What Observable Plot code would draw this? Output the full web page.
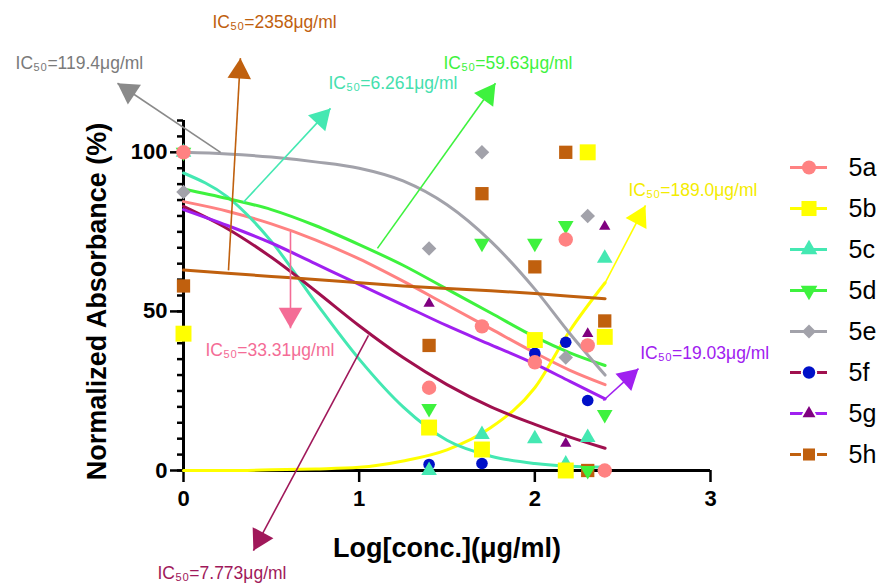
<!DOCTYPE html>
<html><head><meta charset="utf-8">
<script src="https://cdn.jsdelivr.net/npm/d3@7"></script>
<script src="https://cdn.jsdelivr.net/npm/@observablehq/plot@0.6"></script>
<style>
body{margin:0;background:#fff;}
#wrap{position:relative;width:886px;height:586px;font-family:"Liberation Sans",Arial,sans-serif;}
#wrap svg{position:absolute;overflow:visible;}
</style></head><body><div id="wrap"></div>
<script>
// ---------- data ----------
const seriesNames = ["5a","5b","5c","5d","5e","5f","5g","5h"];
// measured log10 concentrations (1, 25, 50, 100, 150, 200, 250 µg/ml)
const logConc = [0, 1.398, 1.699, 2, 2.176, 2.301, 2.398];
const pts5a = [100, 26, 45.3, 34, 72.6, 39.3, 0];
const pts5b = [43, 13.5, 6.6, 41, 0, 100, 42];
const pts5c = [100, 0, 11.3, 10, 2, 10.4, 66.7];
const pts5d = [100, 19.5, 71.4, 71.4, 77, 0, 17.6];
const pts5e = [87.5, 69.8, 100, null, 35.5, 80, null];
const pts5f = [null, 1.9, 2.2, 36.8, 40.3, 22, null];
const pts5g = [null, 52.5, null, null, 8.5, 43, 76.7];
const pts5h = [58, 39.3, 87, 64, 100, 0, 47];
// fitted curves
const curveX = [0, 0.25, 0.5, 0.75, 1, 1.25, 1.5, 1.75, 2, 2.2, 2.4];
const fit5a = [84.5, 81.5, 77.5, 72.5, 66.5, 59.5, 52, 44.5, 37, 31.5, 27];
const fit5b = [0, 0, 0.2, 0.5, 1, 3, 6.5, 13.5, 26, 44, 59];
const fit5c = [93.5, 86, 72, 53, 35, 20, 9.5, 4.5, 2.2, 1.3, 1];
const fit5d = [88.5, 85.5, 82, 77, 71, 64.5, 57, 49.5, 42, 37, 33];
const fit5e = [100, 99.5, 98.5, 97, 95, 91, 83.5, 72, 57, 43, 30];
const fit5f = [83, 76, 67, 56.5, 45.5, 35.5, 27, 20, 14.5, 10.5, 7];
const fit5g = [82, 77, 71.5, 65, 58.5, 52, 45.5, 39.5, 33.5, 28, 22.5];
const fit5h = [63, 62, 61, 60, 59, 58, 57.2, 56.5, 55.6, 54.8, 54];
// IC50 annotations (series order)
const icLabels = ["IC₅₀=33.31μg/ml","IC₅₀=189.0μg/ml","IC₅₀=6.261μg/ml","IC₅₀=59.63μg/ml",
                  "IC₅₀=119.4μg/ml","IC₅₀=7.773μg/ml","IC₅₀=19.03μg/ml","IC₅₀=2358μg/ml"];
const arrowFromX = [0.609, 2.40, 0.341, 1.104, 0.211, 1.053, 2.39, 0.256];
const arrowFromY = [75, 59, 84.3, 69.8, 100, 42.5, 22, 62.9];
const arrowToX   = [0.609, 2.63, 0.837, 1.776, -0.376, 0.398, 2.59, 0.324];
const arrowToY   = [44.7, 83.3, 113.8, 121.7, 121.7, -25.2, 32, 129.6];
const labelX     = [0.125, 2.533, 0.825, 1.48, -0.956, -0.148, 2.60, 0.165];
const labelY     = [37.7, 88, 121.7, 128, 128, -32.4, 36.8, 140.9];
const yTicks = [0, 50, 100];
const xTicks = [0, 1, 2, 3];

// ---------- styles ----------
const pointsBySeries = [pts5a, pts5b, pts5c, pts5d, pts5e, pts5f, pts5g, pts5h];
const fitsBySeries = [fit5a, fit5b, fit5c, fit5d, fit5e, fit5f, fit5g, fit5h];
const curveColor = ["#ff8282","#ffff00","#44e8b2","#3ef23e","#a2a2aa","#a0104e","#a020f0","#c0600e"];
const markColor  = ["#ff8282","#ffff00","#44e8b2","#3ef23e","#a2a2aa","#0010c8","#800080","#c0600e"];
const markSymbol = ["circle","square","triangle","triangle","square","circle","triangle","square"];
const markRotate = [0, 0, 0, 180, 45, 0, 0, 0];
const markR      = [7.2, 9, 5.8, 5.8, 5.8, 5.8, 4.2, 7.5];
const legendR    = [7, 8.5, 6.2, 6.2, 5.6, 6.2, 4.8, 6.8];
const annColor   = ["#f46c96","#ffff00","#44e8b2","#3ef23e","#8a8a8a","#a0185a","#a020f0","#c0600e"];
const annText    = ["#f46c96","#f4ec00","#44e0ae","#3ef23e","#7a7a7a","#a0185a","#a020f0","#c0600e"];

const W = 886, H = 586, mL = 183, mR = 176, mT = 120, mB = 116;
const xDomain = [0, 3], yDomain = [0, 110];

const curves = seriesNames.flatMap((s, i) => curveX.map((x, j) => ({series: s, x, y: fitsBySeries[i][j]})));
const anns = seriesNames.map((s, i) => ({
  series: s, color: annColor[i], tcolor: annText[i], label: icLabels[i],
  x1: arrowFromX[i], y1: arrowFromY[i], x2: arrowToX[i], y2: arrowToY[i],
  lx: labelX[i], ly: labelY[i]
}));

// arrowheads: filled triangles placed through the library's scales
const xs = Plot.scale({x: {domain: xDomain, range: [mL, W - mR]}});
const ys = Plot.scale({y: {domain: yDomain, range: [H - mB, mT]}});
const headHalf = 6.8;
const heads = anns.map(a => {
  const px1 = xs.apply(a.x1), py1 = ys.apply(a.y1), px2 = xs.apply(a.x2), py2 = ys.apply(a.y2);
  const len = Math.hypot(px2 - px1, py2 - py1), ux = (px2 - px1) / len, uy = (py2 - py1) / len;
  const cx = px2 - ux * 2 * headHalf, cy = py2 - uy * 2 * headHalf;
  return {x: xs.invert(cx), y: ys.invert(cy), rotate: Math.atan2(ux, -uy) * 180 / Math.PI, color: a.color};
});
const headR = Math.sqrt(3 * Math.sqrt(3) * headHalf * headHalf / Math.PI);

// earlier series are drawn on top
const order = seriesNames.map((s, i) => i).reverse();

const marks = [
  Plot.axisY({ticks: d3.range(0, 111, 5), tickSize: 6, text: null, label: null, strokeWidth: 2.5}),
  Plot.axisY({ticks: yTicks, tickSize: 13, tickPadding: 3, fontSize: 22, fontWeight: "bold", label: null, strokeWidth: 2.5}),
  Plot.axisX({ticks: xTicks, tickSize: 12, tickPadding: 8, tickFormat: d3.format("d"), fontSize: 22, fontWeight: "bold", label: null, strokeWidth: 2.5}),
  Plot.ruleX([0], {y1: 0, y2: 110, strokeWidth: 3, stroke: "#000"}),
  Plot.ruleY([0], {x1: 0, x2: 3, strokeWidth: 3, stroke: "#000"}),
  Plot.line(curves, {x: "x", y: "y", z: "series", stroke: d => curveColor[seriesNames.indexOf(d.series)], strokeWidth: 3, curve: "monotone-x"}),
  Plot.link(anns, {x1: "x1", y1: "y1", x2: "x2", y2: "y2", stroke: "color", strokeWidth: 1.6}),
  Plot.dot(heads, {x: "x", y: "y", rotate: "rotate", fill: "color", symbol: "triangle", r: headR}),
  ...order.map(i => Plot.dot(
    logConc.map((x, j) => ({x, y: pointsBySeries[i][j]})).filter(d => d.y != null),
    {x: "x", y: "y", symbol: markSymbol[i], fill: markColor[i], r: markR[i], rotate: markRotate[i]})),
  Plot.text(anns, {x: "lx", y: "ly", text: "label", fill: "tcolor", textAnchor: "start", fontSize: 17.5, fontFamily: "Liberation Sans, Arial, sans-serif"}),
  Plot.text(["Log[conc.](μg/ml)"], {frameAnchor: "bottom", dy: 86, fontSize: 27, fontWeight: "bold", fill: "#000"}),
  Plot.text(["Normalized Absorbance (%)"], {frameAnchor: "left", textAnchor: "middle", rotate: -90, dx: -86, dy: 6, fontSize: 27, fontWeight: "bold", fill: "#000"})
];

const chart = Plot.plot({
  width: W, height: H,
  marginLeft: mL, marginRight: mR, marginTop: mT, marginBottom: mB,
  x: {domain: xDomain}, y: {domain: yDomain},
  style: {fontFamily: "Liberation Sans, Arial, sans-serif", color: "#000", background: "transparent", overflow: "visible"},
  marks
});
chart.style.left = "0px"; chart.style.top = "0px";
document.getElementById("wrap").appendChild(chart);

// ---------- legend ----------
const legendRows = seriesNames.map((s, i) => ({name: s, line: curveColor[i], fill: markColor[i],
  symbol: markSymbol[i], rotate: markRotate[i], gap: i >= 5}));
const legend = Plot.plot({
  width: 106, height: 380, margin: 0,
  x: {domain: [0, 1], range: [10, 47], axis: null},
  y: {type: "point", domain: seriesNames, range: [23, 358], axis: null},
  style: {fontFamily: "Liberation Sans, Arial, sans-serif", background: "transparent", overflow: "visible"},
  marks: [
    Plot.ruleY(legendRows, {y: "name", x1: 0, x2: 1, stroke: "line", strokeWidth: 3}),
    ...legendRows.map((d, i) => d.gap
      ? Plot.dot([d], {x: 0.5, y: "name", symbol: "symbol", fill: "fill", r: legendR[i], rotate: "rotate", stroke: "#fff", strokeWidth: 4, paintOrder: "stroke"})
      : Plot.dot([d], {x: 0.5, y: "name", symbol: "symbol", fill: "fill", r: legendR[i], rotate: "rotate"})),
    Plot.text(legendRows, {x: 1, y: "name", text: "name", dx: 21, textAnchor: "start", fontSize: 25, fill: "#000"})
  ]
});
legend.style.left = "780px"; legend.style.top = "120px";
document.getElementById("wrap").appendChild(legend);
</script>
</body></html>
